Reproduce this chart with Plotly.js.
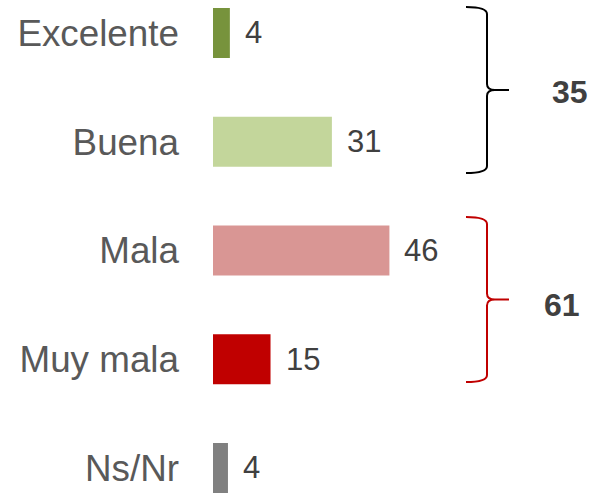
<!DOCTYPE html>
<html>
<head>
<meta charset="utf-8">
<script src="https://cdn.plot.ly/plotly-3.0.1.min.js"></script>
<style>html,body{margin:0;padding:0;background:#fff;}#chart{width:590px;height:493px;}</style>
</head>
<body>
<div id="chart"></div>
<script>
const categories = ["Excelente", "Buena", "Mala", "Muy mala", "Ns/Nr"];
const values = [4.4, 31, 46, 15, 3.9];
const valueLabels = ["4", "31", "46", "15", "4"];
const barColors = ["#77933C", "#C3D69B", "#D99694", "#C00000", "#808080"];
const groupTotals = ["35", "61"];
const groupColors = ["#000000", "#C00000"];

const W = 590, H = 493, L = 213;
function P(x, y) { return ((x - L) / (W - L)).toFixed(4) + "," + (1 - y / H).toFixed(4); }
function brace(top, bottom) {
  const mid = (top + bottom) / 2;
  return "M " + P(466, top) + " Q " + P(487, top) + " " + P(487, top + 7) +
    " L " + P(487, mid - 6) + " Q " + P(487, mid) + " " + P(495, mid) +
    " L " + P(509, mid) + " M " + P(495, mid) + " Q " + P(487, mid) + " " + P(487, mid + 6) +
    " L " + P(487, bottom - 7) + " Q " + P(487, bottom) + " " + P(466, bottom);
}

const trace = {
  type: "bar",
  orientation: "h",
  x: values,
  y: categories,
  width: 0.46,
  marker: { color: barColors, line: { width: 0 } },
  hoverinfo: "skip"
};

const annotations = categories.map((c, i) => ({
  x: values[i], y: c, xref: "x", yref: "y",
  text: valueLabels[i], showarrow: false,
  xanchor: "left", yanchor: "middle", xshift: 13,
  font: { family: "Liberation Sans, Arial, sans-serif", size: 31, color: "#404040" }
}));
annotations.push({
  x: (570 - L) / (W - L), y: 1 - 91.5 / H, xref: "paper", yref: "paper",
  text: "<b>" + groupTotals[0] + "</b>", showarrow: false, xanchor: "center", yanchor: "middle",
  font: { family: "Liberation Sans, Arial, sans-serif", size: 32, color: "#404040" }
});
annotations.push({
  x: (562 - L) / (W - L), y: 1 - 305 / H, xref: "paper", yref: "paper",
  text: "<b>" + groupTotals[1] + "</b>", showarrow: false, xanchor: "center", yanchor: "middle",
  font: { family: "Liberation Sans, Arial, sans-serif", size: 32, color: "#404040" }
});

const layout = {
  width: W, height: H,
  margin: { l: L, r: 0, t: 0, b: 0, pad: 0 },
  paper_bgcolor: "#ffffff", plot_bgcolor: "#ffffff",
  showlegend: false,
  xaxis: { range: [0, 98.3], visible: false, fixedrange: true },
  yaxis: {
    type: "category", categoryorder: "array", categoryarray: categories,
    range: [4.23, -0.3034],
    showgrid: false, zeroline: false, showline: false, ticks: "",
    ticklabelstandoff: 33,
    tickfont: { family: "Liberation Sans, Arial, sans-serif", size: 36.8, color: "#595959" },
    fixedrange: true
  },
  shapes: [
    { type: "path", xref: "paper", yref: "paper", path: brace(7, 173), line: { color: groupColors[0], width: 2 } },
    { type: "path", xref: "paper", yref: "paper", path: brace(217, 382), line: { color: groupColors[1], width: 2 } }
  ],
  annotations: annotations
};

Plotly.newPlot("chart", [trace], layout, { displayModeBar: false, staticPlot: true });
</script>
</body>
</html>
